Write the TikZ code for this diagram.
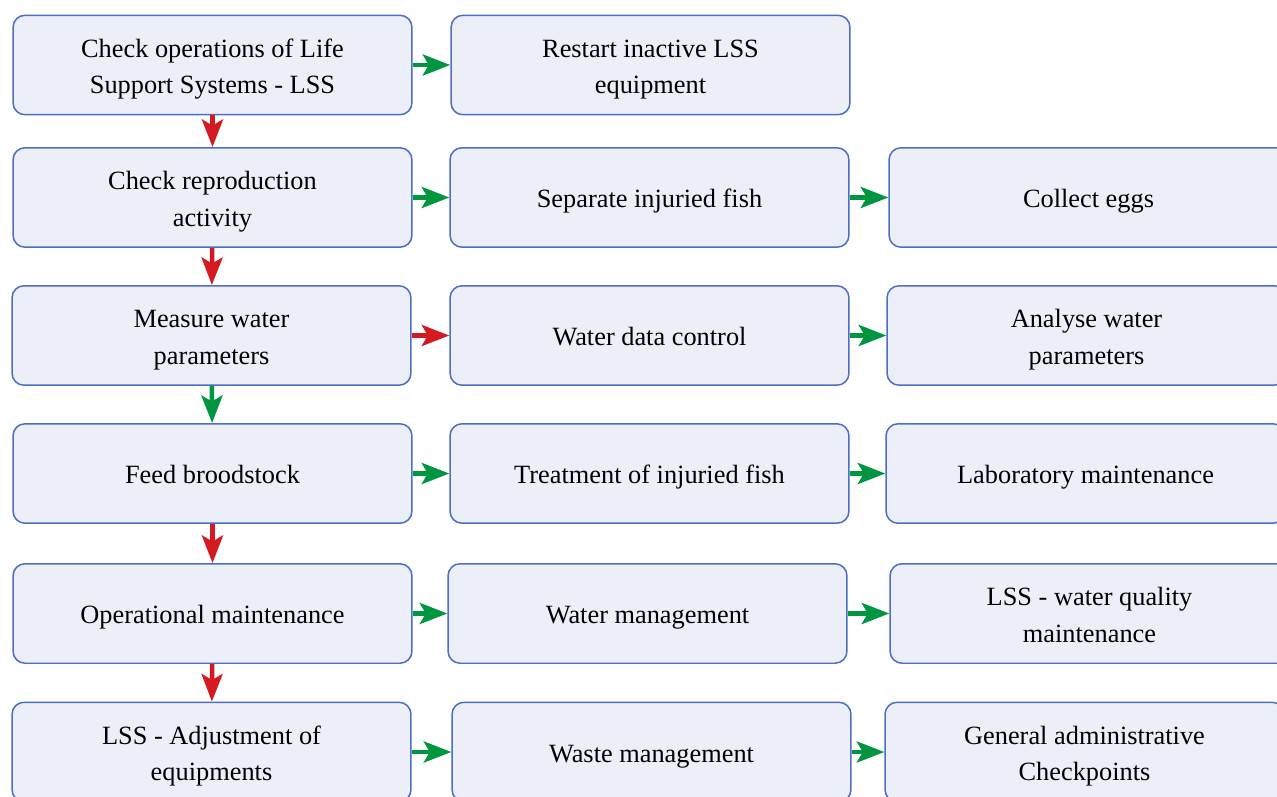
\documentclass[tikz,border=0pt]{standalone}
\usepackage{fontspec}
\setmainfont{Liberation Serif}
\usetikzlibrary{arrows.meta}

\definecolor{boxfill}{RGB}{236,239,248}
\definecolor{boxline}{RGB}{74,111,196}
\definecolor{okgreen}{RGB}{0,150,64}
\definecolor{nored}{RGB}{210,26,32}

\begin{document}
\begin{tikzpicture}[x=0.02cm, y=-0.02cm,
    box/.style={rectangle, rounded corners=0.24cm, draw=boxline, line width=0.85pt, fill=boxfill,
      minimum width=7.98cm, minimum height=1.99cm, align=center, font=\fontsize{15}{21}\selectfont,
      text height=16pt, text depth=4.6pt},
    twoline/.style={box, text height=37pt, text depth=4pt},
    garrow/.style={draw=okgreen, line width=2.6pt, -{Stealth[length=0.55cm, width=0.42cm, inset=0.12cm]}},
    rarrow/.style={draw=nored, line width=2.6pt, -{Stealth[length=0.55cm, width=0.42cm, inset=0.12cm]}}]
    \useasboundingbox (0,0) rectangle (1277,797);

    % 1. Spalte (daily checks)
    \node[twoline] (check) at (212.5, 65) {Check operations of Life\\Support Systems - LSS};
    \node[twoline] (repro) at (212.5, 197.5) {Check reproduction\\activity};
    \node[twoline] (measure) at (211.5, 335.5) {Measure water\\parameters};
    \node[box] (feed) at (212.5, 473.5) {Feed broodstock};
    \node[box] (opmaint) at (212.5, 613.5) {Operational maintenance};
    \node[twoline] (adjust) at (211.5, 752) {LSS - Adjustment of\\equipments};

    % 2. Spalte
    \node[twoline] (restart) at (650.5, 65) {Restart inactive LSS\\equipment};
    \node[box] (separate) at (649.5, 197.5) {Separate injuried fish};
    \node[box] (datactl) at (649.5, 335.5) {Water data control};
    \node[box] (treat) at (649.5, 473.5) {Treatment of injuried fish};
    \node[box] (watermgmt) at (647.5, 613.5) {Water management};
    \node[box] (waste) at (651.5, 752) {Waste management};

    % 3. Spalte
    \node[box] (eggs) at (1088.5, 197.5) {Collect eggs};
    \node[twoline] (analyse) at (1086.5, 335.5) {Analyse water\\parameters};
    \node[box] (lab) at (1085.5, 473.5) {Laboratory maintenance};
    \node[twoline] (quality) at (1089.5, 613.5) {LSS - water quality\\maintenance};
    \node[twoline] (admin) at (1084.5, 752) {General administrative\\Checkpoints};

    % vertical arrows
    \draw[rarrow] (check) -- (repro);
    \draw[rarrow] (repro) -- (measure);
    \draw[garrow] (measure) -- (feed);
    \draw[rarrow] (feed) -- (opmaint);
    \draw[rarrow] (opmaint) -- (adjust);

    % horizontal arrows
    \draw[garrow] (check) -- (restart);
    \draw[garrow] (repro) -- (separate);
    \draw[garrow] (separate) -- (eggs);
    \draw[rarrow] (measure) -- (datactl);
    \draw[garrow] (datactl) -- (analyse);
    \draw[garrow] (feed) -- (treat);
    \draw[garrow] (treat) -- (lab);
    \draw[garrow] (opmaint) -- (watermgmt);
    \draw[garrow] (watermgmt) -- (quality);
    \draw[garrow] (adjust) -- (waste);
    \draw[garrow] (waste) -- (admin);
\end{tikzpicture}
\end{document}
